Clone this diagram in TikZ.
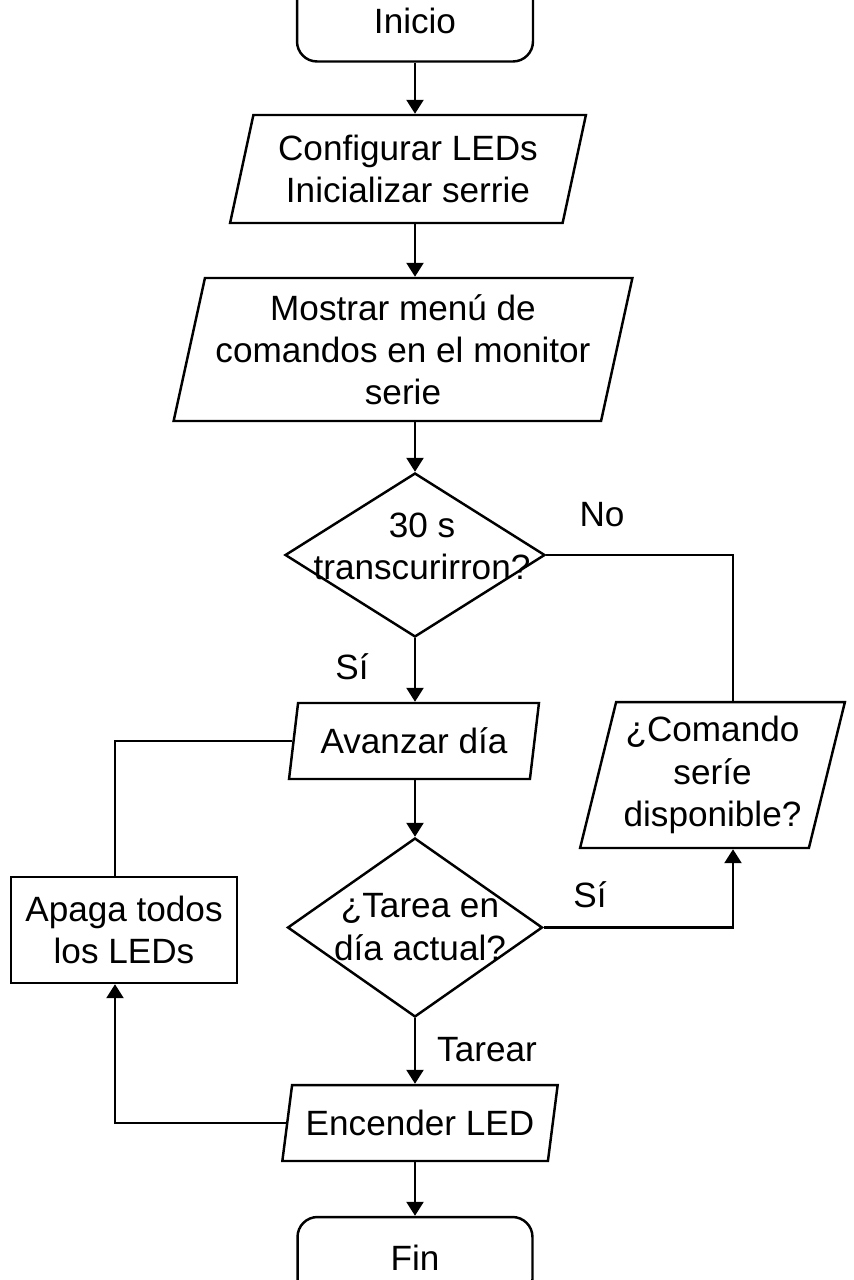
\documentclass[tikz,border=0pt]{standalone}
\usepackage{fontspec}
\setmainfont{Liberation Sans}
\usetikzlibrary{shapes.geometric}
\usetikzlibrary{arrows.meta}
\def\thickness{1.4pt}
\tikzstyle{flowline}=[line width=\thickness]
\tikzset{arr/.style={flowline, -{Triangle[width=0.34cm,length=0.28cm]}}}
\tikzset{terminal/.style={draw, flowline, rounded corners=0.4cm,
    minimum width=4.72cm, minimum height=1.64cm}}
\tikzset{iobox/.style={draw, flowline, trapezium, inner sep=1pt, align=center,
    trapezium stretches=true}}
\tikzset{decision/.style={draw, flowline, diamond, inner sep=0pt}}
\tikzset{process/.style={draw, flowline, rectangle, align=center,
    minimum width=4.52cm, minimum height=2.12cm}}

\begin{document}
\begin{tikzpicture}[x=0.02cm, y=-0.02cm, font=\fontsize{20}{24}\selectfont] %% 1 unit = 1 px

\useasboundingbox (0,0) rectangle (853,1280);

\coordinate (axis) at (415,0);
\coordinate (rcol) at (733,0);
\coordinate (lcol) at (115,0);

\node [terminal] (inicio) at (415,20.5) {Inicio};
\node [iobox, trapezium left angle=74.5, trapezium right angle=105.5,
    minimum width=7.12cm, minimum height=2.16cm] (conf) at (408,169)
    {Configurar LEDs\\Inicializar serrie};
\node [iobox, trapezium left angle=75.3, trapezium right angle=104.7,
    minimum width=9.2cm, minimum height=2.86cm] (menu) at (403,349.5)
    {Mostrar menú de\\comandos en el monitor\\serie};
\node [decision, minimum width=5.2cm, minimum height=3.28cm] (tiempo) at (415,555) {};
\node (tiempo_txt) [align=center] at (422,546) {30 s\\transcurirron?};
\node [iobox, trapezium left angle=76, trapezium right angle=104,
    minimum width=5cm, minimum height=1.52cm] (avanzar) at (414,741) {Avanzar día};
\node [decision, minimum width=5.1cm, minimum height=3.58cm] (tarea) at (415,927.5) {};
\node (tarea_txt) [align=center] at (420,927) {¿Tarea en\\día actual?};
\node [iobox, trapezium left angle=73.2, trapezium right angle=106.8,
    minimum width=5.52cm, minimum height=1.52cm] (encender) at (420,1123) {Encender LED};
\node [terminal, minimum width=4.7cm] (fin) at (415,1258) {Fin};
\node [iobox, trapezium left angle=74.3, trapezium right angle=105.7,
    minimum width=5.3cm, minimum height=2.92cm] (comando) at (712.5,775)
    {¿Comando\\seríe\\disponible?};
\node [process] (apagar) at (124,930) {Apaga todos\\los LEDs};

\node (lbl_no) at (602,515) {No};
\node (lbl_si_a) at (352,667) {Sí};
\node (lbl_si_b) at (590,895) {Sí};
\node (lbl_tarear) at (487,1050) {Tarear};

%% main column
\draw[arr] (inicio.south) -- (conf.north -| axis);
\draw[arr] (conf.south -| axis) -- (menu.north -| axis);
\draw[arr] (menu.south -| axis) -- (tiempo.north);
\draw[arr] (tiempo.south) -- (avanzar.north -| axis);
\draw[arr] (avanzar.south -| axis) -- (tarea.north);
\draw[arr] (tarea.south) -- (encender.north -| axis);
\draw[arr] (encender.south -| axis) -- (fin.north);

%% right branch
\draw[flowline] (tiempo.east) -| (comando.north -| rcol);
\draw[arr] (tarea.east) -| (comando.south -| rcol);

%% left loop
\draw[arr] (encender.west) -| (apagar.south -| lcol);
\draw[flowline] (apagar.north -| lcol) |- (avanzar.west);

\end{tikzpicture}
\end{document}
